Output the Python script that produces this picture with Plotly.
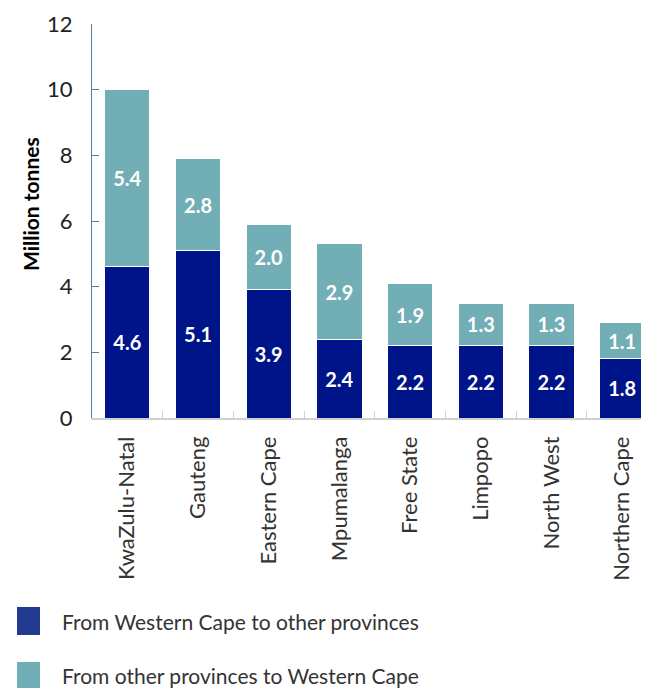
import plotly.graph_objects as go

categories = ["KwaZulu-Natal", "Gauteng", "Eastern Cape", "Mpumalanga",
              "Free State", "Limpopo", "North West", "Northern Cape"]
from_wc = [4.6, 5.1, 3.9, 2.4, 2.2, 2.2, 2.2, 1.8]
to_wc = [5.4, 2.8, 2.0, 2.9, 1.9, 1.3, 1.3, 1.1]
series_names = ["From Western Cape to other provinces",
                "From other provinces to Western Cape"]
y_ticks = [0, 2, 4, 6, 8, 10, 12]

NAVY = "#00148A"
TEAL = "#72AEB5"
LEG_NAVY = "#1F3A8F"
FONT = "Lato"

OFF = 8  # page body margin
W, H = 649 - OFF, 688 - OFF
ML, MR, MT, MB = 92 - OFF, 0, 24 - OFF, 688 - 418
PW = W - ML - MR
PH = H - MT - MB


def px_x(x):
    return (x - OFF - ML) / PW


def px_y(y):
    return (MT + PH - (y - OFF)) / PH


fig = go.Figure()
for vals, col, name in [(from_wc, NAVY, series_names[0]), (to_wc, TEAL, series_names[1])]:
    fig.add_trace(go.Bar(
        x=categories, y=vals, name=name, width=0.64,
        marker=dict(color=col, line=dict(color="white", width=1)),
        text=[f"{v:.1f}" for v in vals], textposition="inside",
        insidetextanchor="middle", textangle=0, constraintext="none",
        textfont=dict(family=FONT, size=20, color="white", weight="bold"),
        showlegend=False, hoverinfo="skip",
    ))

fig.update_layout(
    barmode="stack", width=W, height=H,
    margin=dict(l=ML, r=MR, t=MT, b=MB),
    plot_bgcolor="white", paper_bgcolor="white",
    font=dict(family=FONT, color="#333333"),
    xaxis=dict(range=[-0.5, 7.38], showline=True, linecolor="#D0D0D0", linewidth=1.5,
               ticks="inside", tickson="boundaries", ticklen=7, tickcolor="#D0D0D0",
               tickangle=-90, ticklabelstandoff=8,
               tickfont=dict(family=FONT, size=22, color="#333333"),
               showgrid=False, zeroline=False),
    yaxis=dict(range=[0, 12], tickvals=y_ticks, showline=True, linecolor="#4F7FA0",
               linewidth=1.2, ticks="inside", ticklen=7, tickcolor="#4F7FA0",
               ticklabelstandoff=14,
               tickfont=dict(family=FONT, size=22, color="#222222"),
               showgrid=False, zeroline=False),
)

# Y-axis title
fig.add_annotation(text="<b>Million tonnes</b>", textangle=-90, showarrow=False,
                   xref="paper", yref="paper", x=px_x(30), y=px_y(204),
                   xanchor="center", yanchor="middle",
                   font=dict(family=FONT, size=21, color="#000000"))

# Manual legend
legend_rows = [(621, LEG_NAVY, series_names[0]), (676, TEAL, series_names[1])]
for yc, col, name in legend_rows:
    fig.add_shape(type="rect", xref="paper", yref="paper",
                  x0=px_x(17), x1=px_x(40), y0=px_y(yc + 14), y1=px_y(yc - 14),
                  fillcolor=col, line=dict(width=0))
    fig.add_annotation(text=name, showarrow=False, xref="paper", yref="paper",
                       x=px_x(60), y=px_y(yc), xanchor="left", yanchor="middle",
                       font=dict(family=FONT, size=21, color="#333333"))

fig.write_html("out.html")
